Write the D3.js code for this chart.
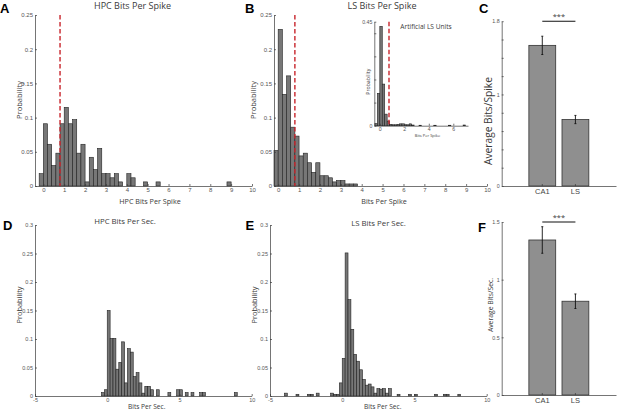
<!DOCTYPE html>
<html>
<head>
<meta charset="utf-8">
<script src="https://cdn.jsdelivr.net/npm/d3@7"></script>
<style>
body { margin: 0; background: #fff; }
svg { display: block; font-family: 'Open Sans', sans-serif; }
.axis path, .axis line { stroke: #3a3a3a; stroke-width: 0.7; }
.axis text { fill: #555; }
.bin { fill: #777; stroke: #222; stroke-width: 0.6; }
.bar { fill: #8f8f8f; stroke: #333; stroke-width: 0.8; }
.err { stroke: #111; stroke-width: 0.9; }
.meanLine { stroke: #c8252c; stroke-width: 1.4; stroke-dasharray: 4.5 2.5; }
.lbl { fill: #3a3a3a; }
.letter { font-family: 'Liberation Sans', Arial, sans-serif; font-weight: bold; font-size: 13px; fill: #000; }
</style>
</head>
<body>
<svg id="canvas" width="617" height="415"></svg>
<script>
// ---- data ----
let binWidth = 0.2

// A  HPC bits per spike
let hpcSpikeEdges = [-0.2, 0, 0.2, 0.4, 0.6, 0.8, 1.0, 1.2, 1.4, 1.6, 1.8, 2.0, 2.2, 2.4, 2.6, 2.8, 3.0, 3.2, 3.4, 3.6, 4.0, 4.2, 4.8, 5.4, 8.8]
let hpcSpikeProb = [0.018, 0.091, 0.061, 0.030, 0.048, 0.091, 0.115, 0.091, 0.097, 0.048, 0.061, 0.006, 0.042, 0.024, 0.055, 0.018, 0.018, 0.012, 0.018, 0.006, 0.018, 0.012, 0.006, 0.006, 0.006]
let hpcSpikeMean = 0.8

// B  LS bits per spike
let lsSpikeEdges = [-0.2, 0, 0.2, 0.4, 0.6, 0.8, 1.0, 1.2, 1.4, 1.6, 1.8, 2.0, 2.2, 2.4, 2.6, 2.8, 3.0, 3.2, 3.4, 3.6]
let lsSpikeProb = [0.052, 0.229, 0.134, 0.161, 0.086, 0.073, 0.044, 0.048, 0.034, 0.020, 0.034, 0.015, 0.015, 0.012, 0.006, 0.008, 0.008, 0.003, 0.003, 0.003]
let lsSpikeMean = 0.8

// B inset  artificial LS units
let artEdges = [-0.4, -0.2, 0, 0.2, 0.4, 0.6, 0.8, 1.0, 1.2, 1.4, 1.6, 1.8, 2.0, 2.2, 2.4, 2.6, 3.2, 4.4, 5.6, 6.8]
let artProb = [0.009, 0.14, 0.43, 0.18, 0.05, 0.02, 0.006, 0.004, 0.004, 0.006, 0.008, 0.008, 0.004, 0.004, 0.008, 0.003, 0.002, 0.002, 0.002, 0.003]
let artMean = 0.75

// D  HPC bits per sec
let hpcSecEdges = [-0.4, -0.2, 0, 0.2, 0.4, 0.6, 0.8, 1.0, 1.2, 1.4, 1.6, 1.8, 2.0, 2.2, 2.4, 2.6, 2.8, 3.0, 3.4, 4.2, 4.8, 5.0, 5.4, 5.8, 6.4, 6.6, 8.8]
let hpcSecProb = [0.006, 0.011, 0.150, 0.101, 0.101, 0.047, 0.059, 0.095, 0.023, 0.083, 0.077, 0.034, 0.041, 0.023, 0.005, 0.017, 0.017, 0.011, 0.011, 0.006, 0.011, 0.011, 0.006, 0.006, 0.006, 0.006, 0.006]

// E  LS bits per sec
let lsSecEdges = [-4.0, -3.2, -2.4, -2.2, -1.8, -0.8, -0.6, -0.4, -0.2, 0, 0.2, 0.4, 0.6, 0.8, 1.0, 1.2, 1.4, 1.6, 1.8, 2.0, 2.2, 2.4, 2.6, 2.8, 3.0, 3.2, 3.8, 4.6, 5.0, 6.4, 7.0, 7.2, 8.0]
let lsSecProb = [0.005, 0.003, 0.003, 0.003, 0.005, 0.005, 0.003, 0.003, 0.023, 0.066, 0.251, 0.169, 0.117, 0.073, 0.061, 0.046, 0.029, 0.019, 0.021, 0.016, 0.005, 0.013, 0.012, 0.013, 0.005, 0.013, 0.003, 0.003, 0.003, 0.003, 0.003, 0.003, 0.003]

// C / F  averages
let regions = ['CA1', 'LS']
let avgSpike = [1.536, 0.726]
let avgSpikeErr = [0.10, 0.045]
let avgSec = [1.344, 0.813]
let avgSecErr = [0.115, 0.063]

// tick values
let spikeXTicks = [0, 1, 2, 3, 4, 5, 6, 7, 8, 9, 10]
let spikeYTicks = [0, 0.05, 0.1, 0.15, 0.2, 0.25]
let secXTicks = [-5, 0, 5, 10]
let secYTicks = [0, 0.05, 0.1, 0.15, 0.2, 0.25, 0.3]
let artXTicks = [0, 2, 4, 6]
let artYTicks = [0, 0.1, 0.2, 0.3, 0.4, 0.45]
let spikeAvgTicks = [0, 0.2, 0.4, 0.6, 0.8, 1, 1.2, 1.4, 1.6, 1.8]
let spikeAvgLabels = [0, 1, 1.8]
let secAvgTicks = [0, 0.5, 1, 1.5]

let canvas = d3.select('#canvas')

let addText = (txt, x, y, size, opts = {}) => {
    let t = canvas.append('text')
        .attr('class', opts.cls || 'lbl')
        .attr('x', x)
        .attr('y', y)
        .attr('text-anchor', opts.anchor || 'middle')
        .style('font-size', size + 'px')
        .text(txt)
    if (opts.rotate) {
        t.attr('transform', 'rotate(-90,' + x + ',' + y + ')')
    }
    return t
}

let drawAxes = (x, y, xTicks, yTicks, fontSize, yFmt) => {
    canvas.append('g')
        .attr('class', 'axis')
        .attr('transform', 'translate(0,' + y.range()[0] + ')')
        .call(d3.axisBottom(x).tickValues(xTicks).tickSizeInner(-2).tickSizeOuter(0).tickPadding(2).tickFormat((d) => d))
        .selectAll('text').style('font-size', fontSize + 'px')
    canvas.append('g')
        .attr('class', 'axis')
        .attr('transform', 'translate(' + x.range()[0] + ',0)')
        .call(d3.axisLeft(y).tickValues(yTicks).tickSizeInner(-2).tickSizeOuter(0).tickPadding(2).tickFormat(yFmt || ((d) => d)))
        .selectAll('text').style('font-size', fontSize + 'px')
}

let drawHist = (x, y, edges, probs) => {
    canvas.append('g')
        .selectAll('rect')
        .data(edges)
        .enter()
        .append('rect')
        .attr('class', 'bin')
        .attr('x', (d) => x(d))
        .attr('y', (d, i) => y(probs[i]))
        .attr('width', (d) => x(d + binWidth) - x(d))
        .attr('height', (d, i) => y(0) - y(probs[i]))
}

let drawMean = (x, y, m) => {
    canvas.append('line')
        .attr('class', 'meanLine')
        .attr('x1', x(m)).attr('x2', x(m))
        .attr('y1', y.range()[1]).attr('y2', y.range()[0])
}

let drawAverages = (x, y, means, errs, yTicks, yFmt) => {
    canvas.append('g')
        .selectAll('rect')
        .data(regions)
        .enter()
        .append('rect')
        .attr('class', 'bar')
        .attr('x', (d) => x(d))
        .attr('y', (d, i) => y(means[i]))
        .attr('width', x.bandwidth())
        .attr('height', (d, i) => y(0) - y(means[i]))

    let mid = (d) => x(d) + x.bandwidth() / 2
    let eb = canvas.append('g').selectAll('g').data(regions).enter().append('g')
    eb.append('line').attr('class', 'err')
        .attr('x1', mid).attr('x2', mid)
        .attr('y1', (d, i) => y(means[i] - errs[i])).attr('y2', (d, i) => y(means[i] + errs[i]))
    eb.append('line').attr('class', 'err')
        .attr('x1', (d) => mid(d) - 1).attr('x2', (d) => mid(d) + 1)
        .attr('y1', (d, i) => y(means[i] + errs[i])).attr('y2', (d, i) => y(means[i] + errs[i]))
    eb.append('line').attr('class', 'err')
        .attr('x1', (d) => mid(d) - 1).attr('x2', (d) => mid(d) + 1)
        .attr('y1', (d, i) => y(means[i] - errs[i])).attr('y2', (d, i) => y(means[i] - errs[i]))

    canvas.append('g')
        .attr('class', 'axis')
        .attr('transform', 'translate(0,' + y.range()[0] + ')')
        .call(d3.axisBottom(x).tickSizeInner(-2).tickSizeOuter(0).tickPadding(3))
        .selectAll('text').style('font-size', '7.5px').style('fill', '#444')
    canvas.append('g')
        .attr('class', 'axis')
        .attr('transform', 'translate(' + x.range()[0] + ',0)')
        .call(d3.axisLeft(y).tickValues(yTicks).tickSizeInner(-2).tickSizeOuter(0).tickPadding(2).tickFormat(yFmt))
        .selectAll('text').style('font-size', '5.3px')

    // significance bar at the top of the axis
    let top = y.range()[1]
    canvas.append('line')
        .attr('x1', mid(regions[0]))
        .attr('x2', mid(regions[1]))
        .attr('y1', top).attr('y2', top)
        .attr('stroke', '#111').attr('stroke-width', 1.1)
    addText('***', (mid(regions[0]) + mid(regions[1])) / 2, top - 2.5, 7.5)
}

// ---- A ----
let xA = d3.scaleLinear().domain([-0.4, 10]).range([35, 252])
let yA = d3.scaleLinear().domain([0, 0.25]).range([186, 15])
drawHist(xA, yA, hpcSpikeEdges, hpcSpikeProb)
drawAxes(xA, yA, spikeXTicks, spikeYTicks, 6)
drawMean(xA, yA, hpcSpikeMean)
addText('HPC Bits Per Spike', 132.5, 8.5, 9)
addText('HPC Bits Per Spike', 150, 204, 7.2)
addText('Probability', 21.5, 100, 7.6, { rotate: true })

// ---- B ----
let xB = d3.scaleLinear().domain([-0.2, 10]).range([274, 487])
let yB = d3.scaleLinear().domain([0, 0.25]).range([186, 15])
drawHist(xB, yB, lsSpikeEdges, lsSpikeProb)
drawAxes(xB, yB, spikeXTicks, spikeYTicks, 6)
drawMean(xB, yB, lsSpikeMean)
addText('LS Bits Per Spike', 382, 9, 9)
addText('Bits Per Spike', 384, 204, 7.2)
addText('Probability', 256, 100, 7.6, { rotate: true })

// B inset
let xI = d3.scaleLinear().domain([-0.45, 7.2]).range([374.3, 468])
let yI = d3.scaleLinear().domain([0, 0.45]).range([125.7, 21.7])
drawHist(xI, yI, artEdges, artProb)
drawAxes(xI, yI, artXTicks, artYTicks, 5.2, (d) => (d === 0 || d === 0.45) ? d : '')
drawMean(xI, yI, artMean)
addText('Artificial LS Units', 426, 28.5, 6.6)
addText('Bits Per Spike', 427.5, 137, 4)
addText('Probability', 370.5, 81.7, 5.2, { rotate: true })

// ---- C ----
let xC = d3.scaleBand().domain(regions).range([501.7, 616]).paddingInner(0.19).paddingOuter(0.82)
let yC = d3.scaleLinear().domain([0, 1.8]).range([186, 21.2])
drawAverages(xC, yC, avgSpike, avgSpikeErr, spikeAvgTicks, (d) => spikeAvgLabels.includes(d) ? d : '')
addText('Average Bits/Spike', 492, 121, 10.2, { rotate: true })

// ---- D ----
let xD = d3.scaleLinear().domain([-5, 10]).range([35, 251.7])
let yD = d3.scaleLinear().domain([0, 0.3]).range([396, 225])
drawHist(xD, yD, hpcSecEdges, hpcSecProb)
drawAxes(xD, yD, secXTicks, secYTicks, 5.5)
addText('HPC Bits Per Sec.', 125, 224, 7.8)
addText('Bits Per Sec.', 146.7, 409, 6.6)
addText('Probability', 21.5, 305, 7.4, { rotate: true })

// ---- E ----
let xE = d3.scaleLinear().domain([-5, 10]).range([270, 486.7])
let yE = d3.scaleLinear().domain([0, 0.3]).range([396, 225])
drawHist(xE, yE, lsSecEdges, lsSecProb)
drawAxes(xE, yE, secXTicks, secYTicks, 5.5)
addText('LS Bits Per Sec.', 378.5, 226, 7.8)
addText('Bits Per Sec.', 382.7, 409, 6.6)
addText('Probability', 256.5, 305, 7.4, { rotate: true })

// ---- F ----
let xF = d3.scaleBand().domain(regions).range([501.7, 616]).paddingInner(0.19).paddingOuter(0.82)
let yF = d3.scaleLinear().domain([0, 1.5]).range([395, 222])
drawAverages(xF, yF, avgSec, avgSecErr, secAvgTicks, (d) => d)
addText('Average Bits/Sec.', 493, 305, 6.8, { rotate: true })

// panel letters
addText('A', 0, 12.7, 13, { cls: 'letter', anchor: 'start' })
addText('B', 245, 12.7, 13, { cls: 'letter', anchor: 'start' })
addText('C', 479, 13.3, 13, { cls: 'letter', anchor: 'start' })
addText('D', 3, 230, 13, { cls: 'letter', anchor: 'start' })
addText('E', 245.5, 230, 13, { cls: 'letter', anchor: 'start' })
addText('F', 478, 231.5, 13, { cls: 'letter', anchor: 'start' })
</script>
</body>
</html>
